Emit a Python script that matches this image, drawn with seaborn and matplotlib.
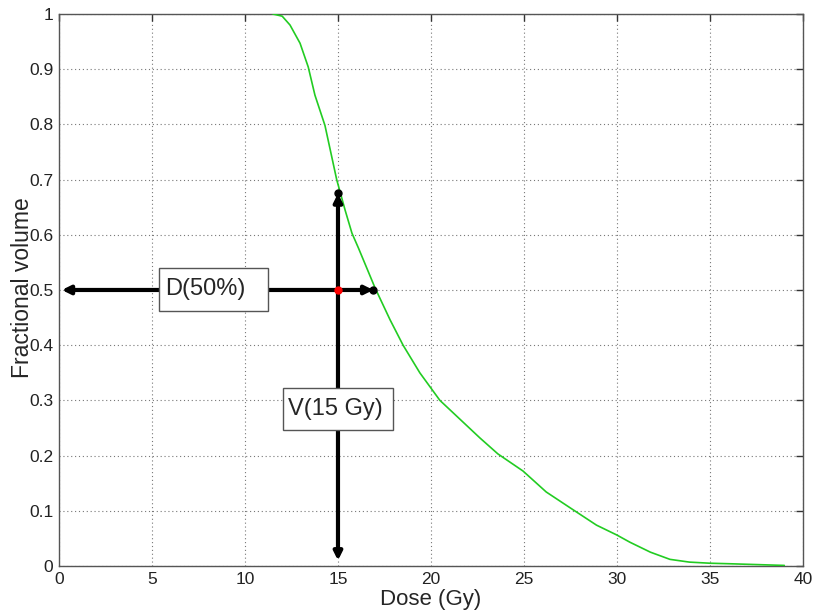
import pandas as pd
import matplotlib.pyplot as plt
import matplotlib.patches as mpatches
import seaborn as sns

# Dose-volume histogram values
dose_gy = [11.5, 12.0, 12.42, 12.96, 13.4, 13.76, 14.3, 14.93, 15.38,
           15.75, 16.1, 16.99, 17.8, 18.5, 19.4, 20.48, 22.63, 23.6, 24.95,
           26.2, 27.5, 28.9, 30.0, 30.7, 31.8, 32.85, 33.9, 35.0, 36.1, 39.0]
frac_volume = [1.0, 0.996, 0.980, 0.947, 0.904, 0.853, 0.798, 0.70, 0.645,
               0.603, 0.576, 0.504, 0.446, 0.40, 0.35, 0.30, 0.232, 0.203, 0.172,
               0.134, 0.105, 0.074, 0.056, 0.043, 0.025, 0.012, 0.007, 0.005, 0.004, 0.001]

# Annotation values
d50_level = 0.5
d50_x = [0.15, 16.9]
v15_dose = 15
v15_y = [0.01, 0.675]

x_ticks = [0, 5, 10, 15, 20, 25, 30, 35, 40]
y_ticks = [0, 0.1, 0.2, 0.3, 0.4, 0.5, 0.6, 0.7, 0.8, 0.9, 1]
y_tick_labels = ['0', '0.1', '0.2', '0.3', '0.4', '0.5', '0.6', '0.7', '0.8', '0.9', '1']

df = pd.DataFrame({'dose': dose_gy, 'volume': frac_volume})

sns.set_style('white')
plt.rcParams['font.family'] = ['Liberation Sans', 'DejaVu Sans']

fig = plt.figure(figsize=(8.13, 6.13), dpi=100)
ax = fig.add_axes([0.0726, 0.0767, 0.915, 0.9005])

sns.lineplot(data=df, x='dose', y='volume', color='#22cc22', lw=1.2, ax=ax, zorder=3)

# double arrows
arrow_kw = dict(arrowstyle='<|-|>', color='black', lw=3, mutation_scale=12,
                shrinkA=0, shrinkB=0)
ax.annotate('', xy=(d50_x[0], d50_level), xytext=(d50_x[1], d50_level),
            arrowprops=arrow_kw, zorder=4)
ax.annotate('', xy=(v15_dose, v15_y[0]), xytext=(v15_dose, v15_y[1]),
            arrowprops=arrow_kw, zorder=4)
ax.plot([d50_x[1]], [d50_level], 'o', color='black', ms=5, zorder=5)
ax.plot([v15_dose], [v15_y[1]], 'o', color='black', ms=5, zorder=5)
ax.plot([v15_dose], [d50_level], 'o', color='red', ms=5, zorder=6)

# text boxes (MATLAB-like textbox annotations)
boxes = [
    ('D(50%)', (5.38, 0.462), 5.86, 0.078, (7.88, 0.501)),
    ('V(15 Gy)', (12.04, 0.246), 5.92, 0.076, (14.84, 0.284)),
]
for label, corner, w, h, tpos in boxes:
    ax.add_patch(mpatches.Rectangle(corner, w, h, fc='white', ec='#555555',
                                    lw=1, zorder=7))
    ax.text(*tpos, label, ha='center', va='center', fontsize=17, zorder=8)

ax.set_xlim(0, 40)
ax.set_ylim(0, 1)
ax.set_xticks(x_ticks)
ax.set_yticks(y_ticks)
ax.set_yticklabels(y_tick_labels)
ax.tick_params(direction='in', length=5, width=1, labelsize=12.5, color='#333333',
               labelcolor='#222222', top=True, right=True, pad=4)
ax.grid(True, linestyle=(0, (1, 2.5)), color='#777777', lw=0.8)
for sp in ax.spines.values():
    sp.set_color('#555555')
    sp.set_linewidth(1)

ax.set_xlabel('Dose (Gy)', fontsize=16, labelpad=2)
ax.set_ylabel('Fractional volume', fontsize=16.5)
ax.yaxis.set_label_coords(-0.034, 0.504)

plt.savefig('out.png', dpi=100)
plt.close(fig)
